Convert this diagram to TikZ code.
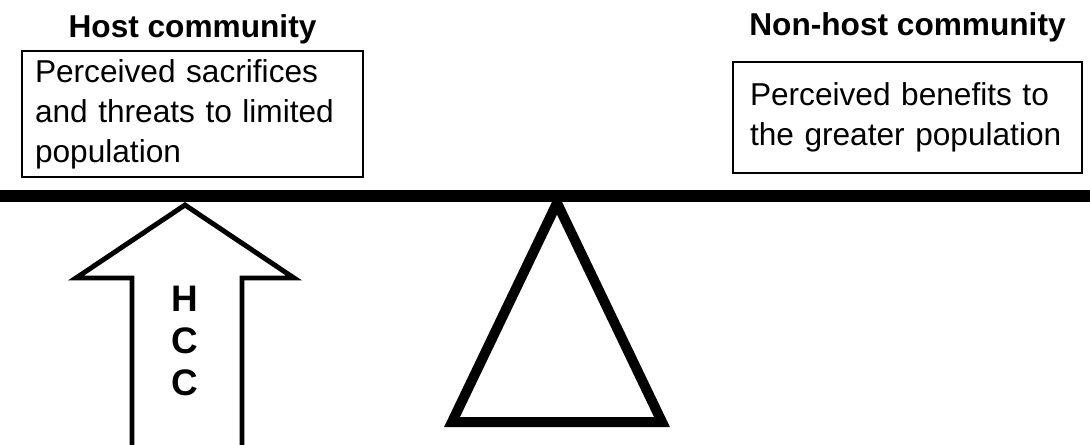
\documentclass[tikz,border=0pt]{standalone}
\usepackage{fontspec}
\setmainfont{Liberation Sans}
\usetikzlibrary{positioning}

\begin{document}
\begin{tikzpicture}[
  perc/.style={rectangle,draw,line width=0.8pt,align=left,
               font=\fontsize{18}{22.7}\selectfont},
  ttl/.style={font=\fontsize{18}{22}\selectfont\bfseries,inner sep=0pt},
  lbl/.style={font=\fontsize{21}{24}\selectfont\bfseries,align=center},
  beam/.style={line width=0.24cm},
  fulcrum/.style={line width=0.2cm,line join=miter},
  push/.style={line width=2.8pt,line join=miter,fill=white}
]
  \useasboundingbox (0,0) rectangle (21.8,8.88);
  \node[perc,minimum width=6.82cm,minimum height=2.52cm,text width=6.3cm](host) at (3.85,6.6)
       {Perceived sacrifices\\and threats to limited\\population};
  \node[perc,minimum width=6.98cm,minimum height=2.22cm,text width=6.3cm](nonhost) at (18.15,6.53)
       {Perceived benefits to\\the greater population};
  \node[ttl,above=0.12cm of host](hostT){Host community};
  \node[ttl,above=0.38cm of nonhost](nonhostT){Non-host community};

  \draw[fulcrum](11.14,4.82)--(9.04,0.44)--(13.24,0.44)--cycle;
  \draw[push](2.64,-0.5)--(2.64,3.32)--(1.52,3.32)--(3.7,4.78)--(5.88,3.32)
             --(4.84,3.32)--(4.84,-0.5);
  \node[lbl](hcc) at (3.7,2.06){H\\C\\C};

  \coordinate (bl) at (0,4.96);
  \coordinate (br) at (21.8,4.96);
  \draw[beam](bl)--(br);
\end{tikzpicture}
\end{document}
